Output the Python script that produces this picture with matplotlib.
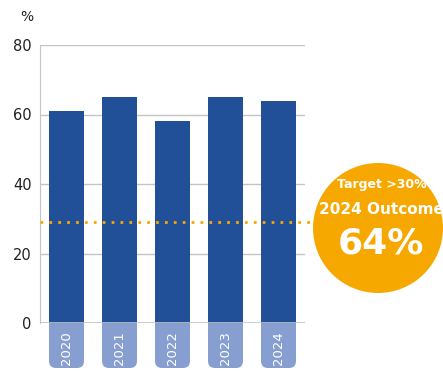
import matplotlib
matplotlib.use("Agg")
import matplotlib.pyplot as plt
from matplotlib.patches import FancyBboxPatch, Circle
from matplotlib.transforms import IdentityTransform, blended_transform_factory

years = ["2020", "2021", "2022", "2023", "2024"]
values = [61, 65, 58, 65, 64]
target = 29
yticks = [0, 20, 40, 60, 80]
badge_lines = ["Target >30%", "2024 Outcome", "64%"]

BAR = "#214f98"
LIGHT = "#879fd0"
ORANGE = "#f7a800"
GRID = "#c4c4c4"

W, H = 443, 371
fig = plt.figure(figsize=(W / 100, H / 100), dpi=100)
ax = fig.add_axes([40 / W, (H - 323) / H, 265 / W, 278 / H])
ax.patch.set_alpha(0)

x = list(range(len(years)))
width = 0.66
ax.bar(x, values, width=width, color=BAR, zorder=3)
ax.set_xlim(-0.5, len(years) - 0.5)
ax.set_ylim(0, 80)
ax.set_yticks(yticks)
ax.set_yticklabels([str(t) for t in yticks], fontsize=10.5, color="#222222")
ax.tick_params(axis="y", length=0, pad=6)
ax.set_xticks([])
ax.grid(axis="y", color=GRID, lw=1, zorder=0)
for s in ["top", "right", "bottom"]:
    ax.spines[s].set_visible(False)
ax.spines["left"].set_color(GRID)
ax.axhline(0, color=GRID, lw=1.2, zorder=4)

# target line
ax.axhline(target, xmin=0, xmax=(313 - 40) / 265, color=ORANGE, lw=2,
           linestyle=(0, (1, 2.2)), clip_on=False, zorder=5)

# % label
fig.text(20 / W, 1 - 17 / H, "%", fontsize=10, color="#222222", va="center")

# tick label boxes
fig.canvas.draw()
for i, yr in enumerate(years):
    (x0, y0) = ax.transData.transform((i - width / 2, 0))
    (x1, _) = ax.transData.transform((i + width / 2, 0))
    box_bottom = H - 368
    box = FancyBboxPatch((x0 + 6, box_bottom + 6), (x1 - x0) - 12, (y0 - box_bottom) - 6,
                         boxstyle="round,pad=6,rounding_size=7",
                         transform=IdentityTransform(), facecolor=LIGHT,
                         edgecolor="none", zorder=-1)
    fig.add_artist(box)
    tr = blended_transform_factory(ax.transData, fig.transFigure)
    fig.text(i, (H - 348) / H, yr, transform=tr, rotation=90, color="white",
             fontsize=9.5, ha="center", va="center", zorder=6)

# badge
circ = Circle((378, H - 228), 65, transform=IdentityTransform(),
              facecolor=ORANGE, edgecolor="none", zorder=2)
fig.add_artist(circ)
fig.text(382 / W, 1 - 185 / H, badge_lines[0], color="white", fontsize=9,
         fontweight="bold", ha="center", va="center")
fig.text(381 / W, 1 - 210 / H, badge_lines[1], color="white", fontsize=11,
         fontweight="bold", ha="center", va="center")
fig.text(381 / W, 1 - 243 / H, badge_lines[2], color="white", fontsize=26,
         fontweight="bold", ha="center", va="center")

fig.savefig("out.png", dpi=100)
